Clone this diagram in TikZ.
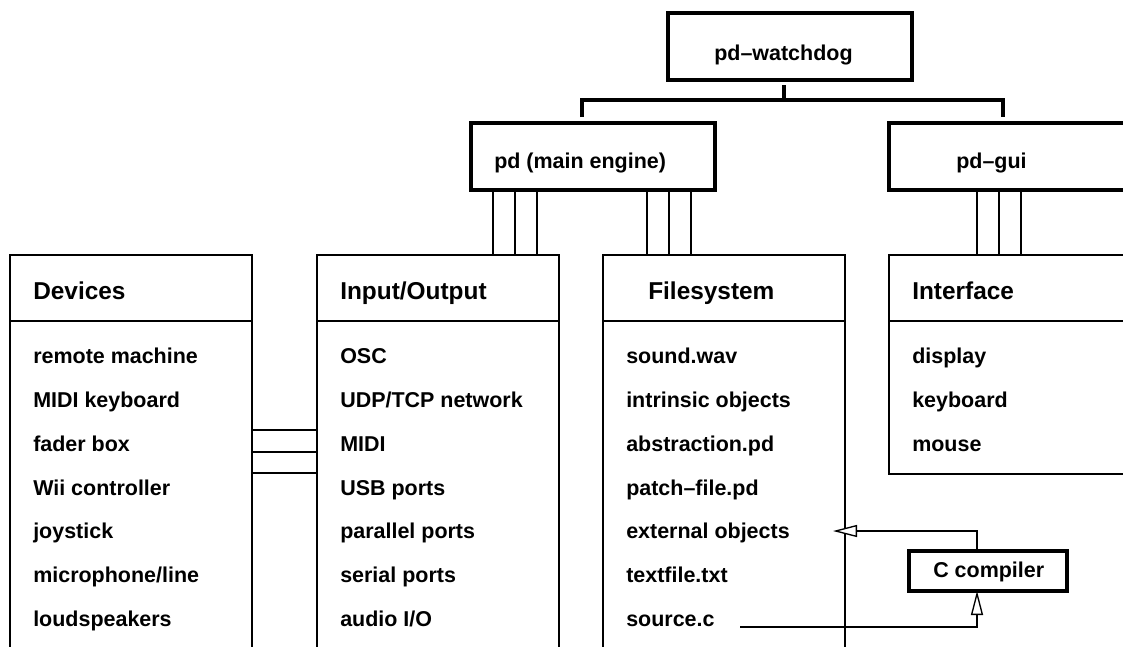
\documentclass[tikz,border=0pt]{standalone}
\usepackage{fontspec}
\setmainfont{Liberation Sans}
\usetikzlibrary{arrows.meta}
\tikzset{
  frame/.style={draw, line width=1pt, inner sep=0pt, outer sep=0pt, anchor=north west},
  heavy/.style={draw, line width=2.5pt, inner sep=0pt, outer sep=0pt, anchor=north west},
  head/.style={anchor=base west, inner sep=0pt, font=\bfseries\fontsize{18.3}{20}\selectfont},
  item/.style={anchor=base west, inner sep=0pt, font=\bfseries\fontsize{16.1}{18}\selectfont},
  wire/.style={line width=1pt},
  tree/.style={line width=2.5pt},
  flow/.style={line width=1pt, -{Triangle[length=18pt, width=9pt, fill=white]}},
}
\begin{document}
\begin{tikzpicture}[x=0.75pt, y=-0.75pt]
\useasboundingbox (0,0) rectangle (1123,646);
\clip (0,0) rectangle (1123,646);

% process boxes
\node[heavy, minimum width={244*0.75pt}, minimum height={67*0.75pt}] (wd) at (668,13) {};
\node[heavy, minimum width={244*0.75pt}, minimum height={67*0.75pt}] (pdmain) at (471,123) {};
\node[heavy, minimum width={260*0.75pt}, minimum height={67*0.75pt}] (pdgui) at (889,123) {};
\node[heavy, minimum width={158*0.75pt}, minimum height={40*0.75pt}] (cc) at (909,551) {};

\node[item] (wdt) at (714,60) {pd–watchdog};
\node[item] (pdmaint) at (494,168) {pd (main engine)};
\node[item] (pdguit) at (956,168) {pd–gui};
\node[item] (cct) at (933,577) {C compiler};

% category boxes
\node[frame, minimum width={242*0.75pt}, minimum height={410*0.75pt}] (dev) at (10,255) {};
\node[frame, minimum width={242*0.75pt}, minimum height={410*0.75pt}] (io) at (317,255) {};
\node[frame, minimum width={242*0.75pt}, minimum height={410*0.75pt}] (fs) at (603,255) {};
\node[frame, minimum width={260*0.75pt}, minimum height={219*0.75pt}] (intf) at (889,255) {};

\foreach \b in {dev,io,fs,intf}
  \draw[wire] (\b.west |- 0,321) -- (\b.east |- 0,321);

\node[head] (devh) at (33,299) {Devices};
\node[head] (ioh) at (340,299) {Input/Output};
\node[head] (fsh) at (648,299) {Filesystem};
\node[head] (intfh) at (912,299) {Interface};

\foreach \t [count=\i] in {remote machine, MIDI keyboard, fader box, Wii controller, joystick, microphone/line, loudspeakers}
  \node[item] (dev-\i) at (33,{363.5+43.85*(\i-1)}) {\t};
\foreach \t [count=\i] in {OSC, UDP/TCP network, MIDI, USB ports, parallel ports, serial ports, audio I/O}
  \node[item] (io-\i) at (340,{363.5+43.85*(\i-1)}) {\t};
\foreach \t [count=\i] in {sound.wav, intrinsic objects, abstraction.pd, patch–file.pd, external objects, textfile.txt, source.c}
  \node[item] (fs-\i) at (626,{363.5+43.85*(\i-1)}) {\t};
\foreach \t [count=\i] in {display, keyboard, mouse}
  \node[item] (intf-\i) at (912,{363.5+43.85*(\i-1)}) {\t};

% process tree
\coordinate (stem) at (784,85);
\coordinate (fork) at (784,100);
\coordinate (mainin) at (582,117);
\coordinate (guiin) at (1003,117);
\draw[tree] (stem) -- (fork);
\draw[tree] (mainin) |- (fork) -| (guiin);

% bundled links
\foreach \x in {493,515,537}
  \draw[wire] (pdmain.south -| \x,0) -- (io.north -| \x,0);
\foreach \x in {647,669,691}
  \draw[wire] (pdmain.south -| \x,0) -- (fs.north -| \x,0);
\foreach \x in {977,999,1021}
  \draw[wire] (pdgui.south -| \x,0) -- (intf.north -| \x,0);
\foreach \y in {430,452,473}
  \draw[wire] (dev.east |- 0,\y) -- (io.west |- 0,\y);

% compilation
\coordinate (exttip) at (833,531);
\coordinate (srcend) at (740,627);
\draw[flow] (cc.north -| 977,0) |- (exttip);
\draw[flow] (srcend) -| (cc.south -| 977,0);
\end{tikzpicture}
\end{document}
